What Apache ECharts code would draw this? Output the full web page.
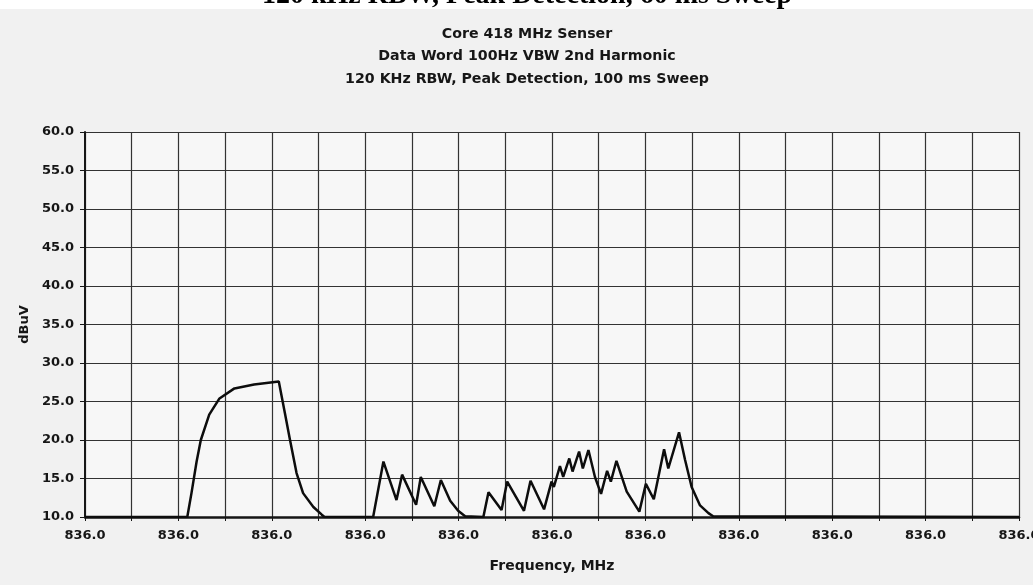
<!DOCTYPE html>
<html>
<head>
<meta charset="utf-8">
<script src="https://cdn.jsdelivr.net/npm/echarts@6/dist/echarts.min.js"></script>
<style>
html,body{margin:0;padding:0;background:#f1f1f1;overflow:hidden;}
#chart{width:1033px;height:585px;}
</style>
</head>
<body>
<div id="chart"></div>
<script>
// ---- data (x in grid-step units along the frequency axis, y in dBuV) ----
const topNote = '120 kHz RBW, Peak Detection, 60 ms Sweep';
const titleLines = ['Core 418 MHz Senser', 'Data Word 100Hz VBW 2nd Harmonic', '120 KHz RBW, Peak Detection, 100 ms Sweep'];
const xTickLabels = ['836.0','836.0','836.0','836.0','836.0','836.0','836.0','836.0','836.0','836.0','836.0'];
const yMin = 10, yMax = 60, yStep = 5;
const xSteps = 20;

const leadIn = [[0, 10]];
const carrierHump = [
  [2.19, 10], [2.28, 13.1], [2.39, 17.2], [2.48, 20.0], [2.66, 23.3], [2.88, 25.4],
  [3.20, 26.7], [3.62, 27.2], [4.15, 27.6], [4.28, 23.5], [4.39, 20.0], [4.53, 15.7],
  [4.67, 13.1], [4.89, 11.3], [5.07, 10.3], [5.13, 10]
];
const combA = [
  [6.17, 10], [6.39, 17.2], [6.67, 12.2], [6.79, 15.5], [7.09, 11.6], [7.19, 15.2],
  [7.48, 11.4], [7.62, 14.8], [7.82, 12.1], [7.99, 10.8], [8.14, 10.1], [8.17, 10]
];
const combB = [
  [8.53, 10], [8.64, 13.2], [8.92, 10.9], [9.04, 14.6], [9.40, 10.8], [9.54, 14.7],
  [9.83, 11.0], [9.99, 14.6], [10.04, 13.9], [10.17, 16.6], [10.24, 15.2], [10.37, 17.6],
  [10.44, 15.9], [10.58, 18.5], [10.66, 16.3], [10.78, 18.7], [10.92, 15.2], [11.05, 13.0],
  [11.18, 16.0], [11.26, 14.6], [11.38, 17.3], [11.60, 13.3], [11.87, 10.7], [12.01, 14.3],
  [12.18, 12.3], [12.40, 18.8], [12.49, 16.3], [12.72, 21.0], [12.85, 17.4], [12.99, 13.9],
  [13.17, 11.5], [13.35, 10.5], [13.45, 10.1], [13.48, 10]
];
const leadOut = [[20, 10]];

const trace = [].concat(leadIn, carrierHump, combA, combB, leadOut);

const chart = echarts.init(document.getElementById('chart'), null, {renderer: 'canvas'});
const ink = '#161616';
chart.setOption({
  backgroundColor: '#f1f1f1',
  animation: false,
  graphic: [{
    type: 'rect', left: 0, top: 0, z: -10,
    shape: {width: 1033, height: 9},
    style: {fill: '#ffffff'}
  }],
  title: [{
    text: topNote,
    left: 527, top: -18, textAlign: 'center', padding: 0,
    textStyle: {fontFamily: 'Liberation Serif', fontWeight: 'bold', fontSize: 28, color: '#000', lineHeight: 28}
  }, {
    text: titleLines.join('\n'),
    left: 527, top: 23, textAlign: 'center', padding: 0,
    textStyle: {fontFamily: 'DejaVu Sans', fontWeight: 'bold', fontSize: 14.2, color: ink, lineHeight: 22.5}
  }],
  grid: {left: 85, right: 14, top: 132, bottom: 68, show: true, backgroundColor: '#f7f7f7', borderWidth: 0,
         containLabel: false, outerBoundsMode: 'none'},
  xAxis: {
    type: 'value', min: 0, max: xSteps, interval: 1,
    name: 'Frequency, MHz', nameLocation: 'middle', nameGap: 42,
    nameTextStyle: {fontFamily: 'DejaVu Sans', fontWeight: 'bold', fontSize: 14, color: ink},
    axisLine: {show: true, onZero: false, lineStyle: {color: ink, width: 2.5}},
    axisTick: {show: true, length: 4, lineStyle: {color: ink, width: 1}},
    splitLine: {show: true, lineStyle: {color: '#333333', width: 1.2}},
    axisLabel: {
      margin: 12, color: ink, fontFamily: 'DejaVu Sans', fontSize: 13, fontWeight: 'bold',
      showMinLabel: true, showMaxLabel: true, hideOverlap: false,
      formatter: v => (Math.round(v) % 2 === 0 ? xTickLabels[Math.round(v) / 2] : '')
    }
  },
  yAxis: {
    type: 'value', min: yMin, max: yMax, interval: yStep,
    name: 'dBuV', nameLocation: 'middle', nameGap: 52, nameRotate: 90,
    nameTextStyle: {fontFamily: 'DejaVu Sans', fontWeight: 'bold', fontSize: 13, color: ink},
    axisLine: {show: true, lineStyle: {color: ink, width: 2}},
    axisTick: {show: true, length: 5, lineStyle: {color: ink, width: 1}},
    splitLine: {show: true, lineStyle: {color: '#333333', width: 1.2}},
    axisLabel: {
      margin: 11, color: ink, fontFamily: 'DejaVu Sans', fontSize: 13, fontWeight: 'bold',
      formatter: v => v.toFixed(1)
    }
  },
  series: [{
    type: 'line', data: trace, showSymbol: false, smooth: false, clip: true,
    lineStyle: {color: '#0d0d0d', width: 2.5},
    z: 5
  }]
});
</script>
</body>
</html>
